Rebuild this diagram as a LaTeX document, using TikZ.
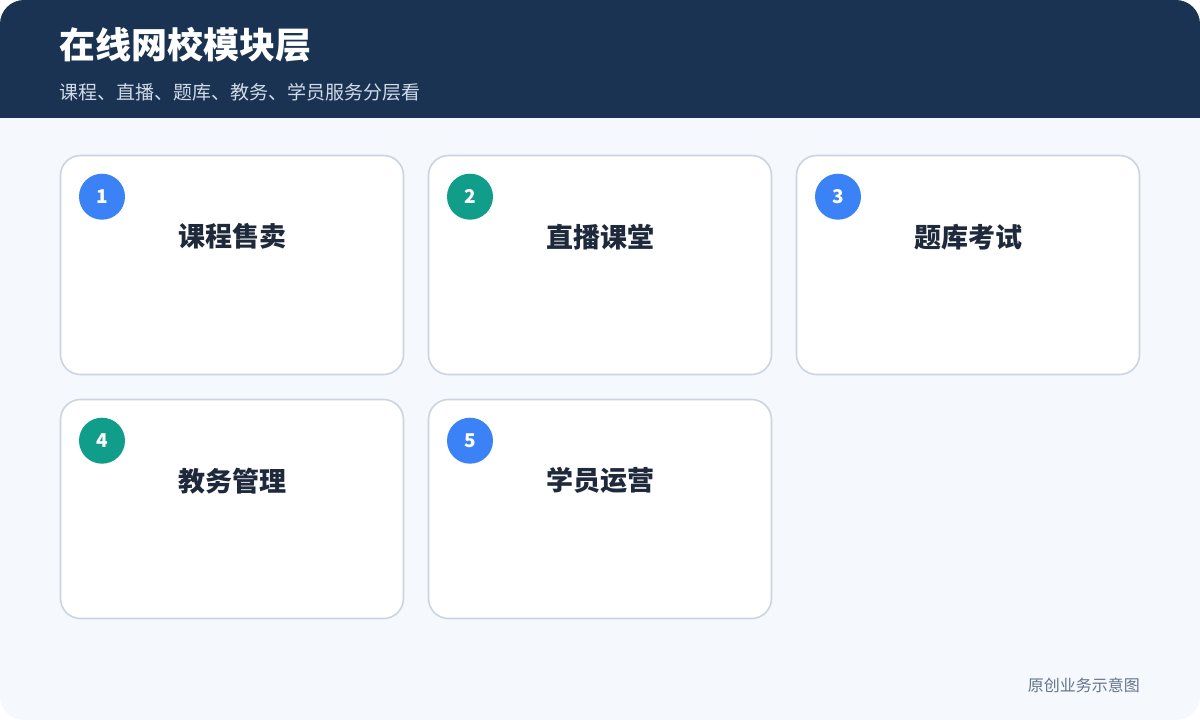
\documentclass[tikz,border=0pt]{standalone}
\usepackage{fontspec}
\usepackage{tikz}
\setmainfont{Noto Sans CJK SC}
\definecolor{headnavy}{RGB}{26,51,82}
\definecolor{pagebg}{RGB}{245,248,253}
\definecolor{cardline}{RGB}{203,213,225}
\definecolor{badgeblue}{RGB}{59,130,246}
\definecolor{badgeteal}{RGB}{16,157,138}
\definecolor{titleink}{RGB}{30,41,59}
\definecolor{subink}{RGB}{208,219,232}
\definecolor{noteink}{RGB}{100,116,139}

\begin{document}
\begin{tikzpicture}[x=1pt, y=-1pt,
        card/.style={rectangle, draw=cardline, line width=1.6pt, fill=white, rounded corners=20pt,
                     minimum width=343pt, minimum height=219pt, inner sep=0pt},
        badge/.style={circle, minimum size=46pt, inner sep=0pt, text=white,
                      font=\fontsize{19}{19}\selectfont\bfseries},
        cardtitle/.style={inner sep=0pt, text=titleink, font=\fontsize{27}{27}\selectfont\bfseries}
    ]
        % Page frame with rounded corners
        \useasboundingbox (0,0) rectangle (1200,720);
        \fill[white] (0,0) rectangle (1200,720);
        \begin{scope}
            \clip[rounded corners=24pt] (0,0) rectangle (1200,720);
            \fill[pagebg] (0,0) rectangle (1200,720);
            \fill[headnavy] (0,0) rectangle (1200,118);
        \end{scope}

        % Header texts
        \node[anchor=west, inner sep=0pt, text=white, font=\fontsize{36}{36}\selectfont\bfseries] (title) at (59,45) {在线网校模块层};
        \node[anchor=west, inner sep=0pt, text=subink, font=\fontsize{19}{19}\selectfont] (subtitle) at (59,92) {课程、直播、题库、教务、学员服务分层看};

        % First row of cards
        \node[card] (course) at (232,265) {};
        \node[card] (live) at (600,265) {};
        \node[card] (exam) at (968,265) {};

        % Second row of cards
        \node[card] (admin) at (232,509) {};
        \node[card] (student) at (600,509) {};

        % Number badges
        \node[badge, fill=badgeblue] (n1) at ([xshift=-130pt,yshift=-42pt]course.north) {1};
        \node[badge, fill=badgeteal] (n2) at ([xshift=-130pt,yshift=-42pt]live.north) {2};
        \node[badge, fill=badgeblue] (n3) at ([xshift=-130pt,yshift=-42pt]exam.north) {3};
        \node[badge, fill=badgeteal] (n4) at ([xshift=-130pt,yshift=-42pt]admin.north) {4};
        \node[badge, fill=badgeblue] (n5) at ([xshift=-130pt,yshift=-42pt]student.north) {5};

        % Card titles
        \node[cardtitle] (t1) at ([yshift=-82pt]course.north) {课程售卖};
        \node[cardtitle] (t2) at ([yshift=-82pt]live.north) {直播课堂};
        \node[cardtitle] (t3) at ([yshift=-82pt]exam.north) {题库考试};
        \node[cardtitle] (t4) at ([yshift=-82pt]admin.north) {教务管理};
        \node[cardtitle] (t5) at ([yshift=-82pt]student.north) {学员运营};

        % Footer note
        \node[anchor=east, inner sep=0pt, text=noteink, font=\fontsize{16}{16}\selectfont] (note) at (1140,685) {原创业务示意图};
    \end{tikzpicture}
\end{document}
